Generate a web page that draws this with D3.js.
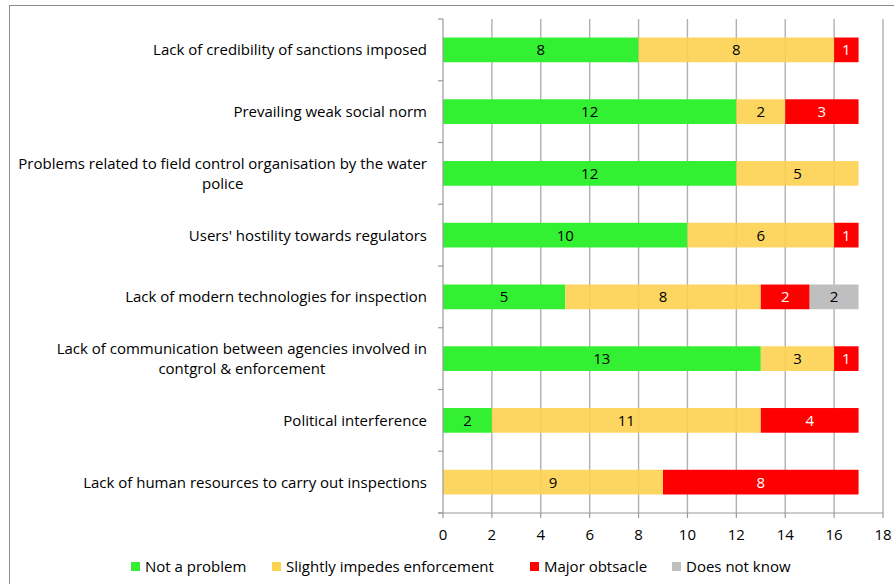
<!DOCTYPE html>
<html><head><meta charset="utf-8">
<script src="https://cdn.jsdelivr.net/npm/d3@7"></script>
<style>
html,body{margin:0;padding:0;background:#fff;}
svg{display:block;font-family:"Open Sans",Lato,sans-serif;}
</style></head>
<body>
<svg id="c" width="894" height="584"></svg>
<script>
const categories = [
  ["Lack of credibility of sanctions imposed"],
  ["Prevailing weak social norm"],
  ["Problems related to field control organisation by the water", "police"],
  ["Users' hostility towards regulators"],
  ["Lack of modern technologies for inspection"],
  ["Lack of communication between agencies involved in", "contgrol & enforcement"],
  ["Political interference"],
  ["Lack of human resources to carry out inspections"]
];
const seriesNames = ["Not a problem", "Slightly impedes enforcement", "Major obtsacle", "Does not know"];
const notAProblem = [8, 12, 12, 10, 5, 13, 2, 0];
const slightlyImpedes = [8, 2, 5, 6, 8, 3, 11, 9];
const majorObstacle = [1, 3, 0, 1, 2, 1, 4, 8];
const doesNotKnow = [0, 0, 0, 0, 2, 0, 0, 0];
const xTicks = [0, 2, 4, 6, 8, 10, 12, 14, 16, 18];
const colors = ["#33F033", "#FDD250", "#FF0000", "#BFBFBF"];
const labelColors = ["#000", "#000", "#fff", "#000"];

const series = [notAProblem, slightlyImpedes, majorObstacle, doesNotKnow];
const svg = d3.select("#c");
const L = 443, R = 883, T = 19, B = 513;
const FS = 15;

// frame
svg.append("rect").attr("x", 9.5).attr("y", 5.5).attr("width", 1000).attr("height", 1000)
  .attr("fill", "none").attr("stroke", "#8c8c8c").attr("stroke-width", 1);

const x = d3.scaleLinear().domain([0, 18]).range([L, R]);
const y = d3.scaleBand().domain(d3.range(categories.length)).range([T, B]).paddingInner(0.6).paddingOuter(0.3);
const yb = d3.scaleBand().domain(d3.range(categories.length)).range([T, B]);

// gridlines
svg.append("g").selectAll("line").data(xTicks.slice(1)).join("line")
  .attr("x1", d => x(d)).attr("x2", d => x(d)).attr("y1", T).attr("y2", B)
  .attr("stroke", "#B0B0B0").attr("stroke-width", 1.4);

// bars
categories.forEach((c, i) => {
  let acc = 0;
  series.forEach((s, k) => {
    const v = s[i];
    if (v > 0) {
      svg.append("rect").attr("x", x(acc)).attr("width", x(acc + v) - x(acc))
        .attr("y", y(i)).attr("height", y.bandwidth())
        .attr("fill", colors[k]).attr("fill-opacity", k === 1 ? 0.9 : 1);
      svg.append("text").attr("x", (x(acc) + x(acc + v)) / 2).attr("y", y(i) + y.bandwidth() / 2)
        .attr("dy", "0.36em").attr("text-anchor", "middle").attr("font-size", FS)
        .attr("fill", labelColors[k]).text(v);
    }
    acc += v;
  });
});

// y axis line and ticks
svg.append("line").attr("x1", L).attr("x2", L).attr("y1", T).attr("y2", B)
  .attr("stroke", "#9a9a9a").attr("stroke-width", 1.2);
svg.append("g").selectAll("line").data(d3.range(categories.length + 1)).join("line")
  .attr("x1", L - 5).attr("x2", L).attr("y1", d => T + d * yb.step()).attr("y2", d => T + d * yb.step())
  .attr("stroke", "#9a9a9a").attr("stroke-width", 1.2);

// x axis
svg.append("line").attr("x1", L - 5).attr("x2", R).attr("y1", B).attr("y2", B)
  .attr("stroke", "#9a9a9a").attr("stroke-width", 1.2);
svg.append("g").selectAll("line").data(xTicks).join("line")
  .attr("x1", d => x(d)).attr("x2", d => x(d)).attr("y1", B).attr("y2", B + 5)
  .attr("stroke", "#9a9a9a").attr("stroke-width", 1.2);
svg.append("g").selectAll("text").data(xTicks).join("text")
  .attr("x", d => x(d)).attr("y", 535).attr("dy", "0.36em").attr("text-anchor", "middle")
  .attr("font-size", FS).attr("fill", "#000").text(d => d);

// y labels
categories.forEach((lines, i) => {
  const cy = yb(i) + yb.bandwidth() / 2;
  const g = svg.append("g");
  const ts = lines.map((ln, j) => g.append("text")
    .attr("y", cy + (j - (lines.length - 1) / 2) * 20).attr("dy", "0.36em")
    .attr("text-anchor", "middle").attr("font-size", FS).attr("fill", "#000").text(ln));
  const w = d3.max(ts, t => t.node().getComputedTextLength());
  ts.forEach(t => t.attr("x", 427 - w / 2));
});

// legend
const legX = [131, 272, 530, 672];
seriesNames.forEach((n, k) => {
  svg.append("rect").attr("x", legX[k]).attr("y", 562).attr("width", 9).attr("height", 9).attr("fill", colors[k]);
  svg.append("text").attr("x", legX[k] + 14).attr("y", 566.5).attr("dy", "0.36em")
    .attr("font-size", FS).attr("fill", "#000").text(n);
});
</script>
</body></html>
